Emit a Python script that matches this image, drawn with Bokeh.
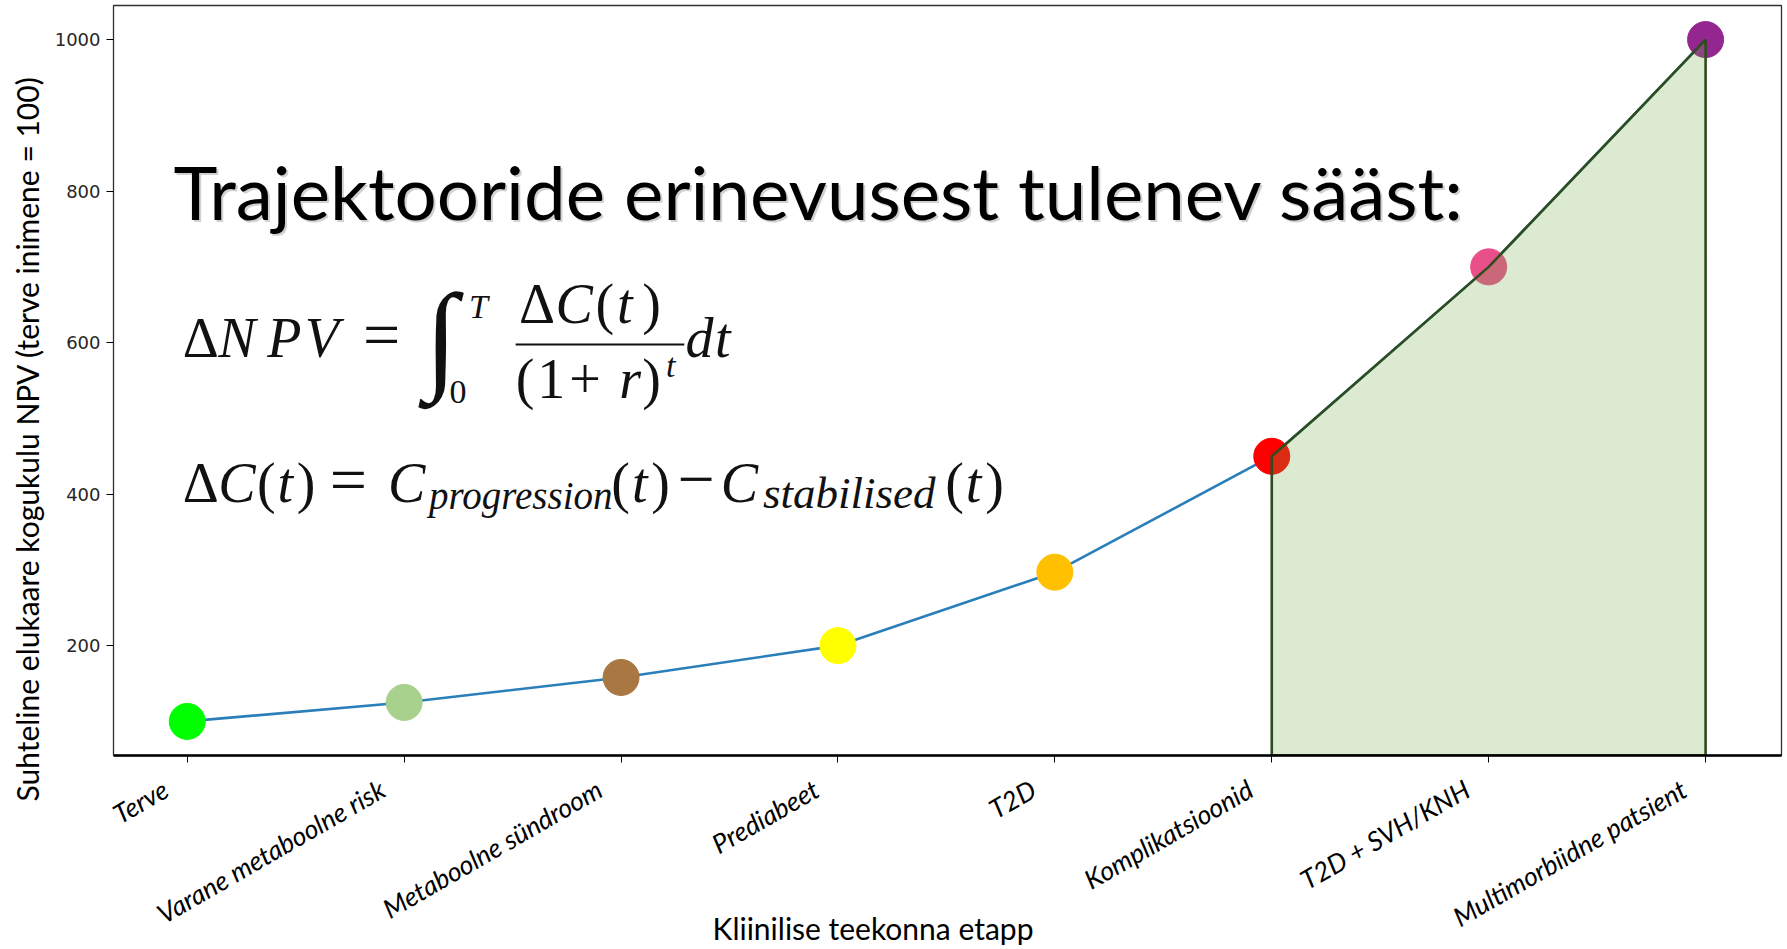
import math
from bokeh.plotting import figure
from bokeh.models import Range1d, FixedTicker, Label, ColumnDataSource, BoxAnnotation, Title
from bokeh.embed import file_html
from bokeh.resources import INLINE

# ---------------- data ----------------
stages = ["Terve", "Varane metaboolne risk", "Metaboolne sündroom", "Prediabeet",
          "T2D", "Komplikatsioonid", "T2D + SVH/KNH", "Multimorbiidne patsient"]
npv = [100, 125, 158, 200, 297, 450, 700, 1000]
stage_colors = ["#00ff00", "#a9d18e", "#a97842", "#ffff00",
                "#ffc000", "#ff0000", "#e9508a", "#93268f"]
y_ticks = [200, 400, 600, 800, 1000]
savings_from = "Komplikatsioonid"

title_text = "Trajektooride erinevusest tulenev sääst:"
y_label = "Suhteline elukaare kogukulu NPV (terve inimene = 100)"
x_label = "Kliinilise teekonna etapp"

# ---------------- figure ----------------
W, H = 1787, 949
Y0, Y1 = 55, 1045
p = figure(width=W, height=H, output_backend="svg", toolbar_location=None,
           x_range=Range1d(-0.34, 7.35), y_range=Range1d(Y0, Y1),
           min_border_left=113, min_border_right=6, min_border_top=5,
           min_border_bottom=193, background_fill_color="white",
           border_fill_color="white")
p.xgrid.visible = False
p.ygrid.visible = False
p.outline_line_color = "#303030"
p.outline_line_width = 1.3

xs = list(range(len(stages)))
src = ColumnDataSource(dict(x=xs, y=npv, c=stage_colors))
p.line("x", "y", source=src, line_color="#2a7fba", line_width=2.6)
p.scatter("x", "y", source=src, size=36, fill_color="c", line_color="c")

k = stages.index(savings_from)
px_ = xs[k:] + [xs[-1], xs[k]]
py_ = npv[k:] + [Y0, Y0]
p.patch(px_, py_, fill_color="#70ad47", fill_alpha=0.25,
        line_color="#2e4d1e", line_width=2.6)

# axes
PAD = "\u00a0" * 4  # trailing pad: rotated labels end a little left of the tick
p.xaxis.ticker = FixedTicker(ticks=xs)
p.xaxis.major_label_overrides = {i: s + PAD for i, s in enumerate(stages)}
p.xaxis.major_label_orientation = math.pi / 6
p.xaxis.major_label_text_font = "Lato"
p.xaxis.major_label_text_font_style = "italic"
p.xaxis.major_label_text_font_size = "26.5px"
p.xaxis.major_label_text_color = "black"
p.xaxis.major_label_standoff = 12
p.xaxis.axis_line_width = 2.5
p.xaxis.axis_line_color = "black"
p.xaxis.major_tick_out = 7
p.xaxis.major_tick_in = 0
p.xaxis.minor_tick_line_color = None

p.yaxis.ticker = FixedTicker(ticks=y_ticks)
p.yaxis.major_label_text_font = "DejaVu Sans"
p.yaxis.major_label_text_font_size = "18px"
p.yaxis.major_label_text_color = "#262626"
p.yaxis.major_label_standoff = 6
p.yaxis.axis_line_color = "#303030"
p.yaxis.major_tick_out = 7
p.yaxis.major_tick_in = 0
p.yaxis.minor_tick_line_color = None

# axis titles (side panels, placed like the reference)
p.add_layout(Title(text=y_label, align="left", offset=-46, vertical_align="bottom",
                   text_font="Lato", text_font_size="30px", text_font_style="normal",
                   text_color="black", standoff=13), "left")
p.add_layout(Title(text=x_label, align="left", offset=599, vertical_align="top",
                   text_font="Lato", text_font_size="30px", text_font_style="normal",
                   text_color="black", standoff=-80), "below")

S = 1787 / 1568.0  # reference-shrink to page factor
BASE = 0.36        # alphabetic baseline correction (em)


def lab(text, px, py, size, font="Lato", style="normal", color="black",
        alpha=1.0):
    p.add_layout(Label(x=px, y=py - BASE * size, x_units="canvas", y_units="canvas",
                       text=text, text_font=font, text_font_size=f"{size}px",
                       text_font_style=style, text_color=color, text_alpha=alpha,
                       text_align="left", text_baseline="alphabetic"))


# big title with soft shadow
lab(title_text, 175, 219, 74.5, color="#9a9a9a", alpha=0.45)
lab(title_text, 173, 217, 74.5)

# ---------------- formulas ----------------
MF = "Liberation Serif"
F = 56
f1 = [  # text, shrunk-x, page-baseline, size, style
    ("Δ", 160, 358, F, "normal"), ("N", 191, 358, F, "italic"),
    ("P", 234, 358, F, "italic"), ("V", 267, 358, F, "italic"),
    ("=", 318, 358, 66, "normal"),
    ("∫", 372, 379, 120, "normal"),
    ("T", 411, 318, 34, "italic"), ("0", 394, 404, 34, "normal"),
    ("Δ", 455, 324, F, "normal"), ("C", 487, 324, F, "italic"),
    ("(", 522, 324, F, "normal"), ("t", 541, 324, F, "italic"),
    (")", 563, 324, F, "normal"),
    ("(", 452, 399, F, "normal"), ("1", 471, 399, F, "normal"),
    ("+", 499, 399, F, "normal"), ("r", 543, 399, F, "italic"),
    (")", 563, 399, F, "normal"), ("t", 584, 377, 34, "italic"),
    ("d", 601, 358, F, "italic"), ("t", 627, 358, F, "italic"),
]
f2 = [
    ("Δ", 160, 503, F, "normal"), ("C", 191, 503, F, "italic"),
    ("(", 225, 503, F, "normal"), ("t", 243, 503, F, "italic"),
    (")", 260, 503, F, "normal"), ("=", 289, 503, 66, "normal"),
    ("C", 340, 503, F, "italic"), ("progression", 376, 509, 39, "italic"),
    ("(", 536, 503, F, "normal"), ("t", 554, 503, F, "italic"),
    (")", 571, 503, F, "normal"), ("−", 594, 503, 66, "normal"),
    ("C", 632, 503, F, "italic"), ("stabilised", 669, 509, 45, "italic"),
    ("(", 829, 503, F, "normal"), ("t", 847, 503, F, "italic"),
    (")", 864, 503, F, "normal"),
]
for t, sx, by, sz, st in f1 + f2:
    lab(t, sx * S, by, sz, font=MF, style=st, color="#111111")

# fraction bar
p.add_layout(BoxAnnotation(left=452 * S, right=600 * S, top=343, bottom=345,
                           left_units="canvas", right_units="canvas",
                           top_units="canvas", bottom_units="canvas",
                           fill_color="#111111", fill_alpha=1.0, line_alpha=0))

open("out.html", "w").write(file_html(p, INLINE))
